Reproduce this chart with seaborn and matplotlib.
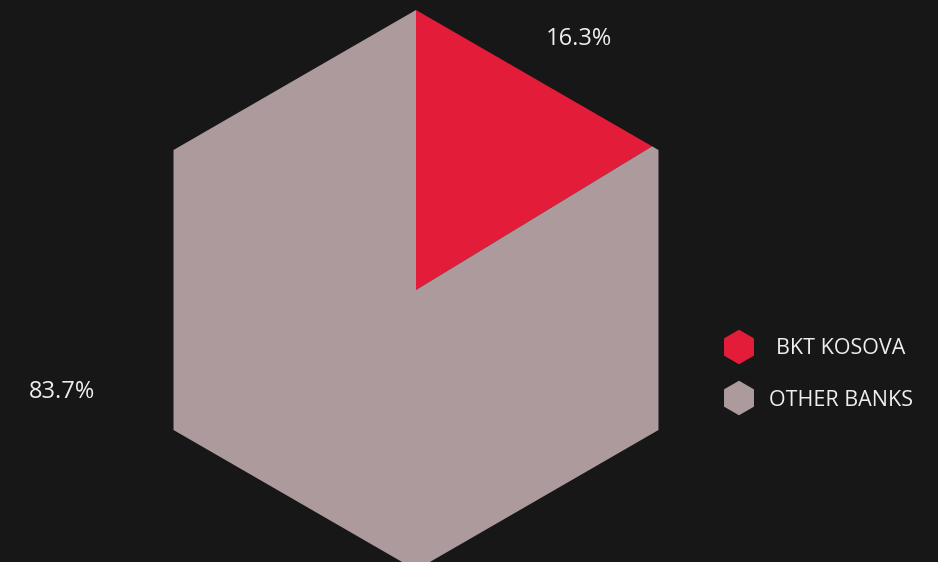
import numpy as np
import pandas as pd
import matplotlib
matplotlib.use("Agg")
import matplotlib.pyplot as plt
import seaborn as sns

categories = ["BKT KOSOVA", "OTHER BANKS"]
values = [16.3, 83.7]
labels = ["16.3%", "83.7%"]
colors = ["#E31C3A", "#AC9A9C"]
BG = "#171717"

sns.set_theme(style="white")
plt.rcParams["font.family"] = ["Open Sans", "DejaVu Sans"]

fig = plt.figure(figsize=(9.38, 5.62), dpi=100, facecolor=BG)
ax = fig.add_axes([0, 0, 1, 1])
ax.set_facecolor(BG)

cx, cy, R = 416, 290, 280


def hex_point(theta_deg):
    t = np.deg2rad(theta_deg)
    m = (theta_deg % 60) - 30
    r = R * np.cos(np.deg2rad(30)) / np.cos(np.deg2rad(m))
    return cx + r * np.sin(t), cy - r * np.cos(t)


total = sum(values)
start = 0.0
for v, c in zip(values, colors):
    end = start + 360 * v / total
    angs = [start] + [a for a in range(0, 361, 60) if start < a < end] + [end]
    pts = [(cx, cy)] + [hex_point(a) for a in angs]
    xs, ys = zip(*pts)
    ax.fill(xs, ys, color=c, lw=0)
    start = end

label_pos = [(579, 39), (62, 392)]
for (lx, ly), t in zip(label_pos, labels):
    ax.text(lx, ly, t, color="#EEEEEE", fontsize=17, ha="center", va="center")

leg = pd.DataFrame({"cat": categories, "x": [739, 739], "y": [347, 398]})
sns.scatterplot(data=leg, x="x", y="y", hue="cat", palette=colors, marker="h",
                s=620, linewidth=0, legend=False, ax=ax)
for y, t in zip(leg["y"], categories):
    ax.text(841, y + 2, t, color="#EEEEEE", fontsize=15.5, ha="center", va="center")

ax.set_xlim(0, 938)
ax.set_ylim(562, 0)
ax.axis("off")
fig.savefig("out.png", dpi=100, facecolor=BG)
